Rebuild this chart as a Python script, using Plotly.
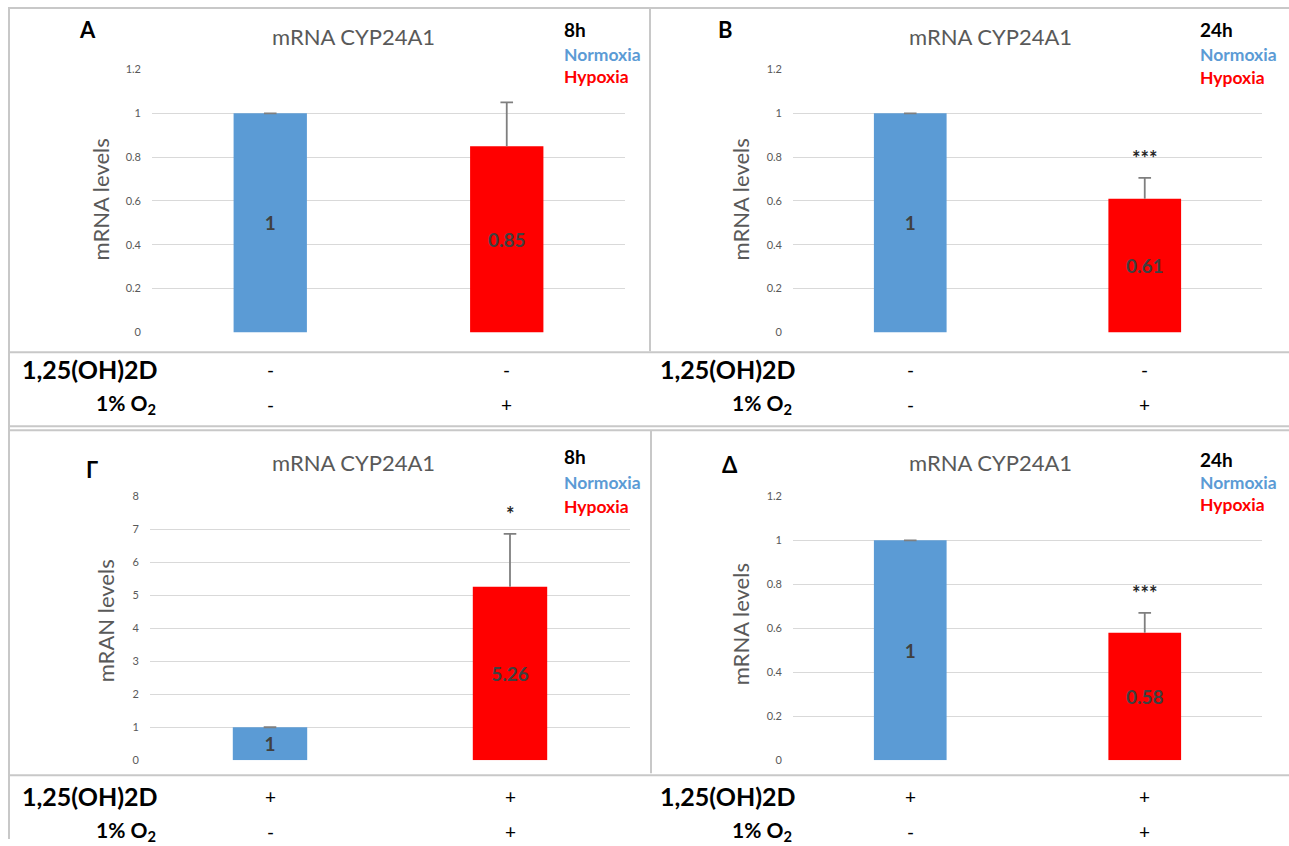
import plotly.graph_objects as go

W, H = 1289, 846
FONT = "Lato"

categories = ["Normoxia", "Hypoxia"]

panel_letters = ["A", "B", "Γ", "Δ"]
panel_times = ["8h", "24h", "8h", "24h"]
y_titles = ["mRNA levels", "mRNA levels", "mRAN levels", "mRNA levels"]
chart_title = "mRNA CYP24A1"

values_A = [1, 0.85]
errors_A = [0, 0.2]
values_B = [1, 0.61]
errors_B = [0, 0.095]
values_G = [1, 5.26]
errors_G = [0, 1.6]
values_D = [1, 0.58]
errors_D = [0, 0.09]

sig_A = ["", ""]
sig_B = ["", "***"]
sig_G = ["", "*"]
sig_D = ["", "***"]

ticks_small = [0, 0.2, 0.4, 0.6, 0.8, 1, 1.2]
ticks_small_text = ["0", "0.2", "0.4", "0.6", "0.8", "1", "1.2"]
ticks_big = [0, 1, 2, 3, 4, 5, 6, 7, 8]
ticks_big_text = ["0", "1", "2", "3", "4", "5", "6", "7", "8"]

row_labels = ["1,25(OH)2D", "1% O<sub>2</sub>"]
signs_top_vitd = ["-", "-"]
signs_top_o2 = ["-", "+"]
signs_bot_vitd = ["+", "+"]
signs_bot_o2 = ["-", "+"]

BLUE = "#5B9BD5"
RED = "#FF0000"
GRAY = "#595959"
ERR = "#7F7F7F"

# vertical layout calibration (pixel position in picture -> figure pixel)
Y_SCALE, Y_OFF = 0.985, 7.5


def px(x):
    return x / W


def py(y):
    f = (y - Y_OFF) / Y_SCALE
    f = min(max(f, 1.0), H - 1.0)
    return 1 - f / H


panels = [
    dict(vals=values_A, errs=errors_A, sig=sig_A, xd=(152, 625), yd=(333, 70),
         rng=[0, 1.2], tv=ticks_small, tt=ticks_small_text),
    dict(vals=values_B, errs=errors_B, sig=sig_B, xd=(793, 1262), yd=(333, 70),
         rng=[0, 1.2], tv=ticks_small, tt=ticks_small_text),
    dict(vals=values_G, errs=errors_G, sig=sig_G, xd=(150, 630), yd=(761, 497),
         rng=[0, 8], tv=ticks_big, tt=ticks_big_text),
    dict(vals=values_D, errs=errors_D, sig=sig_D, xd=(793, 1262), yd=(761, 497),
         rng=[0, 1.2], tv=ticks_small, tt=ticks_small_text),
]

fig = go.Figure()
annotations = []
layout_axes = {}

for i, p in enumerate(panels):
    n = "" if i == 0 else str(i + 1)
    xa, ya = "x" + n, "y" + n
    fig.add_trace(go.Bar(
        x=categories, y=p["vals"],
        marker=dict(color=[BLUE, RED], line=dict(width=0)),
        width=0.31,
        text=[("%g" % v) for v in p["vals"]],
        textposition="inside", insidetextanchor="middle", textangle=0,
        constraintext="none",
        insidetextfont=dict(family=FONT, size=19, color="#404040", weight="bold"),
        error_y=dict(type="data", symmetric=False, array=p["errs"],
                     arrayminus=[0, 0], color=ERR, thickness=1.8, width=0),
        xaxis=xa, yaxis=ya, showlegend=False, hoverinfo="skip",
    ))
    fig.add_trace(go.Scatter(
        x=categories, y=[v + e for v, e in zip(p["vals"], p["errs"])],
        mode="markers",
        marker=dict(symbol="line-ew", size=9, line=dict(color=ERR, width=1.8)),
        xaxis=xa, yaxis=ya, showlegend=False, hoverinfo="skip",
    ))
    layout_axes["xaxis" + n] = dict(
        domain=[px(p["xd"][0]), px(p["xd"][1])], anchor=ya,
        showticklabels=False, showgrid=False, zeroline=False, showline=False,
        ticks="", fixedrange=True,
    )
    layout_axes["yaxis" + n] = dict(
        domain=[py(p["yd"][0]), py(p["yd"][1])], anchor=xa, range=p["rng"],
        tickvals=p["tv"], ticktext=p["tt"], showgrid=True, gridcolor="#D9D9D9",
        gridwidth=1.3, zeroline=False, showline=False, ticks="",
        tickfont=dict(family=FONT, size=11, color=GRAY), ticklabelstandoff=10,
    )
    for c, v, e, s in zip(categories, p["vals"], p["errs"], p["sig"]):
        if s:
            annotations.append(dict(
                x=c, y=v + e, xref=xa, yref=ya, text=s, showarrow=False,
                xanchor="center", yanchor="bottom", yshift=6,
                font=dict(family=FONT, size=20, color="#262626", weight="bold"),
            ))

letter_pos = [(87, 30), (725, 30), (92, 470), (730, 465)]
title_pos = [(354, 37), (990, 37), (354, 463), (990, 463)]
legend_x = [562, 1198, 562, 1198]
legend_y = [(30, 55, 77), (30, 55, 78), (457, 483, 507), (460, 483, 505)]
ytitle_pos = [(100, 200), (740, 200), (105, 622), (740, 625)]


def ann(x, y, text, size, color, xanchor="center", angle=0):
    return dict(x=px(x), y=py(y), xref="paper", yref="paper", text=text,
                showarrow=False, xanchor=xanchor, yanchor="middle",
                textangle=angle, font=dict(family=FONT, size=size, color=color))


for i in range(4):
    lx, ly = letter_pos[i]
    annotations.append(ann(lx, ly, "<b>%s</b>" % panel_letters[i], 22, "black"))
    tx, ty = title_pos[i]
    annotations.append(ann(tx, ty, chart_title, 22, GRAY))
    gx = legend_x[i]
    for txt, yy, col, sz in zip([panel_times[i], categories[0], categories[1]],
                                legend_y[i], ["black", BLUE, RED], [19, 17.5, 17.5]):
        annotations.append(ann(gx, yy, "<b>%s</b>" % txt, sz, col, xanchor="left"))
    yx, yy = ytitle_pos[i]
    annotations.append(ann(yx, yy, y_titles[i], 22, GRAY, angle=-90))

tables = [
    dict(xa="x", lab_x=(160, 158), rows_y=(370, 405), s1=signs_top_vitd, s2=signs_top_o2),
    dict(xa="x2", lab_x=(798, 794), rows_y=(370, 405), s1=signs_top_vitd, s2=signs_top_o2),
    dict(xa="x3", lab_x=(160, 158), rows_y=(797, 832), s1=signs_bot_vitd, s2=signs_bot_o2),
    dict(xa="x4", lab_x=(798, 794), rows_y=(797, 832), s1=signs_bot_vitd, s2=signs_bot_o2),
]
for t in tables:
    for lab, lx, ry, signs, sz in zip(row_labels, t["lab_x"], t["rows_y"],
                                      [t["s1"], t["s2"]], [25, 21]):
        annotations.append(ann(lx, ry, "<b>%s</b>" % lab, sz, "black", xanchor="right"))
        for c, s in zip(categories, signs):
            annotations.append(dict(x=c, y=py(ry), xref=t["xa"], yref="paper",
                                    text=s, showarrow=False, xanchor="center",
                                    yanchor="middle",
                                    font=dict(family=FONT, size=19, color="black")))

LINE = dict(color="#C8C8C8", width=2)


def hline(y, x0=8):
    return dict(type="line", xref="paper", yref="paper", x0=px(x0), x1=1,
                y0=py(y), y1=py(y), line=LINE)


def vline(x, y0, y1):
    return dict(type="line", xref="paper", yref="paper", x0=px(x), x1=px(x),
                y0=py(y0), y1=py(y1), line=LINE)


shapes = [
    hline(7), vline(9, 7, 846), vline(650, 7, 352), hline(353), hline(427),
    hline(431), vline(651, 431, 774), hline(776),
]

fig.update_layout(
    width=W, height=H, margin=dict(l=0, r=0, t=0, b=0),
    paper_bgcolor="white", plot_bgcolor="white",
    annotations=annotations, shapes=shapes,
    font=dict(family=FONT),
    **layout_axes,
)

fig.write_html("out.html", config={"displayModeBar": False})
